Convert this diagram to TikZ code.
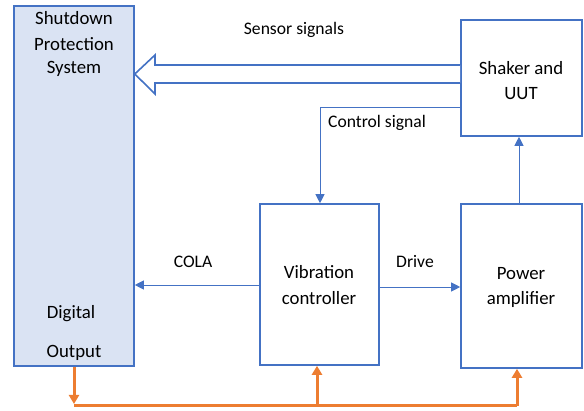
\documentclass[tikz,border=0pt]{standalone}
\usepackage{fontspec}
\setmainfont{Carlito}
\usetikzlibrary{arrows.meta}
\definecolor{bblue}{HTML}{4472C4}
\definecolor{lblue}{HTML}{DAE3F3}
\definecolor{orng}{HTML}{ED7D31}
\begin{document}
\begin{tikzpicture}[x=1pt,y=-1pt,
  box/.style={draw=bblue,line width=1.6pt,inner sep=0pt},
  txt/.style={font=\fontsize{18.8}{22}\selectfont,align=center,inner sep=0pt},
  lbl/.style={font=\fontsize{17.6}{21}\selectfont,align=center,inner sep=0pt},
  thin/.style={draw=bblue,line width=0.9pt,-{Triangle[length=9pt,width=9pt]}},
  orng/.style={draw=orng,line width=3pt,-{Triangle[length=9pt,width=10pt]}}]
\useasboundingbox (0,0) rectangle (584,411);
% boxes
\node[box,fill=lblue,minimum width=120pt,minimum height=360pt] (sps) at (74,186) {};
\node[box,minimum width=121pt,minimum height=116pt] (shk) at (521.5,78) {};
\node[box,minimum width=119pt,minimum height=161pt] (vc) at (319.5,284.5) {};
\node[box,minimum width=121pt,minimum height=164pt] (pa) at (521.5,286) {};
% texts
\node[txt] (t1) at (74,18) {Shutdown};
\node[txt] (t2) at (74,44) {Protection};
\node[txt] (t3) at (74,69) {System};
\node[txt] (t4) at (71,314) {Digital};
\node[txt] (t5) at (74,353) {Output};
\node[txt] (t6) at (521,68) {Shaker and};
\node[txt] (t7) at (521,94) {UUT};
\node[txt] (t8) at (319,272) {Vibration};
\node[txt] (t9) at (319,298) {controller};
\node[txt] (t10) at (521,274) {Power};
\node[txt] (t11) at (521,299) {amplifier};
\node[lbl] (l1) at (294,30) {Sensor signals};
\node[lbl] (l2) at (377,123) {Control signal};
\node[lbl] (l3) at (193,262) {COLA};
\node[lbl] (l4) at (415,262) {Drive};
% big hollow arrow
\draw[draw=bblue,line width=1.6pt,fill=white,line join=miter]
  (shk.west |- 0,65) -- (155,65) -- (155,55) -- (sps.east |- 0,74) -- (155,94) -- (155,83) -- (shk.west |- 0,83);
% thin connectors
\coordinate (c1) at (320,107);
\draw[thin] (shk.west |- c1) -- (c1) -- (c1 |- vc.north);
\draw[thin] (vc.west |- 0,285) -- (sps.east |- 0,285);
\draw[thin] (vc.east |- 0,287) -- (pa.west |- 0,287);
\draw[thin] (pa.north -| 519,0) -- (shk.south -| 519,0);
% orange
\coordinate (o1) at (74,406);
\coordinate (o2) at (317,406);
\coordinate (o3) at (517,406);
\draw[orng] (sps.south -| o1) -- ([yshift=2pt]o1);
\draw[draw=orng,line width=3pt] (o1) -- (o3);
\draw[orng] (o2) -- (o2 |- vc.south);
\draw[orng] (o3) -- (o3 |- pa.south);
\end{tikzpicture}
\end{document}
